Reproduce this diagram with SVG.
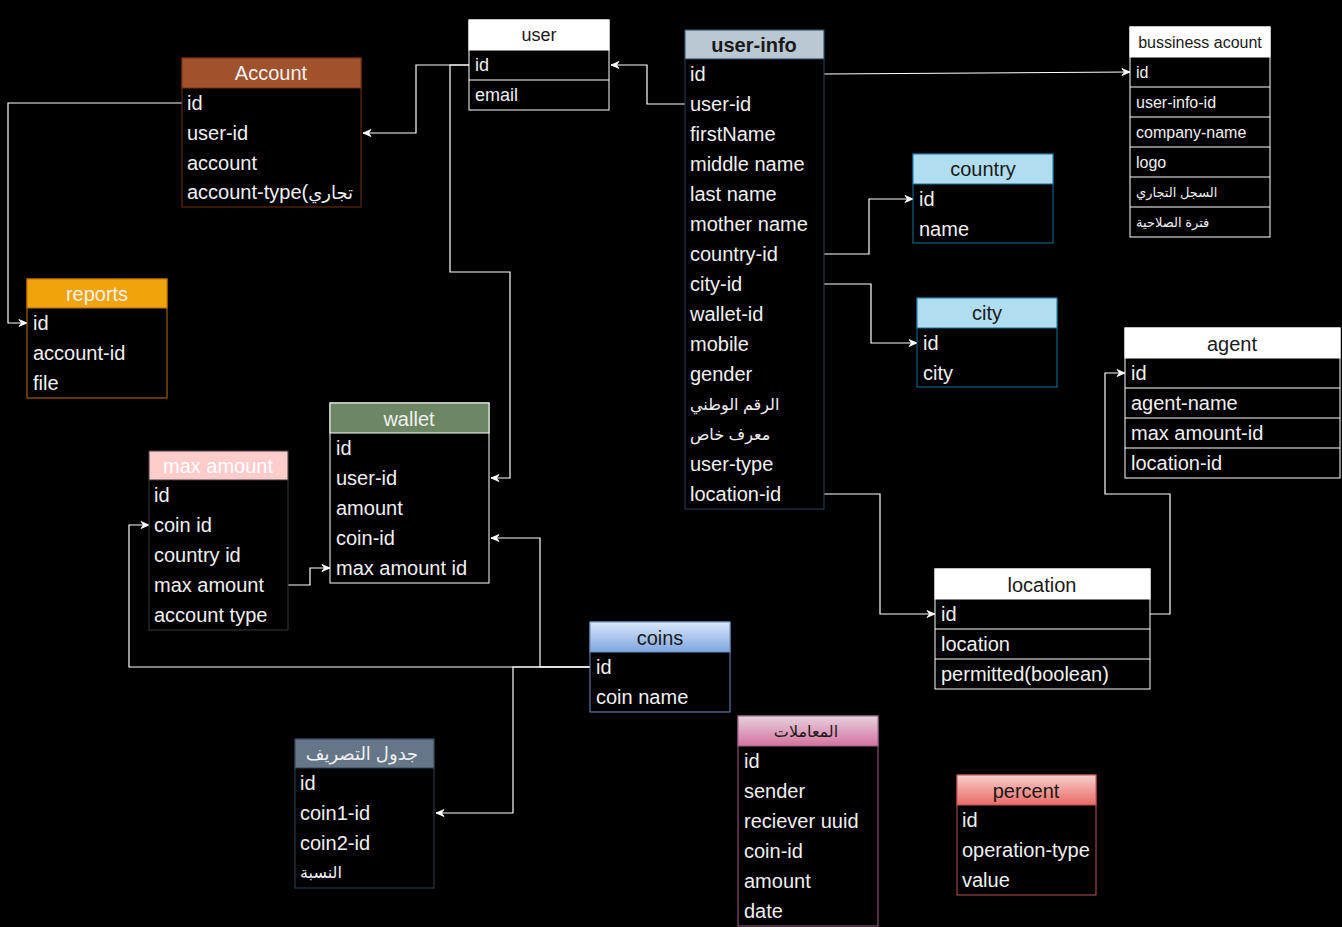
<svg xmlns="http://www.w3.org/2000/svg" width="1342" height="927" viewBox="0 0 1342 927">
<defs>
<style>
text{font-family:"Liberation Sans","DejaVu Sans",Arial,sans-serif;font-size:20px;fill:#f0f0f0}
.h{text-anchor:middle}
.dk{fill:#1a1a1a}
.s16{font-size:16px}
.s18{font-size:18px}
.ar{font-size:16px}
.arb{font-size:13px}
.b{font-weight:bold}
.body{fill:#000}
.conn{fill:none;stroke:#fff;stroke-width:1.2}
.sep{stroke:#fff;stroke-width:1}
</style>
<marker id="arr" markerUnits="userSpaceOnUse" markerWidth="10" markerHeight="10" viewBox="0 0 10 10" refX="9" refY="5" orient="auto">
<path d="M1,1.5 L9,5 L1,8.5 L3.5,5 Z" fill="#fff" stroke="#fff" stroke-width="0.8"/>
</marker>
<linearGradient id="gCoins" x1="0" y1="0" x2="0" y2="1"><stop offset="0" stop-color="#dae8fc"/><stop offset="1" stop-color="#7ea6e0"/></linearGradient>
<linearGradient id="gTrans" x1="0" y1="0" x2="0" y2="1"><stop offset="0" stop-color="#e6d0de"/><stop offset="1" stop-color="#d5739d"/></linearGradient>
<linearGradient id="gPct" x1="0" y1="0" x2="0" y2="1"><stop offset="0" stop-color="#f8cecc"/><stop offset="1" stop-color="#ea6b66"/></linearGradient>
</defs>
<rect x="0" y="0" width="1342" height="927" fill="#000"/>

<g id="connectors">
<path class="conn" d="M685,104 H647 V65 H611" marker-end="url(#arr)"/>
<path class="conn" d="M469,65 H416 V133 H363" marker-end="url(#arr)"/>
<path class="conn" d="M469,65 H450 V272 H510 V478 H491" marker-end="url(#arr)"/>
<path class="conn" d="M182,103 H8 V323 H27" marker-end="url(#arr)"/>
<path class="conn" d="M288,585 H310 V568 H330" marker-end="url(#arr)"/>
<path class="conn" d="M590,667 H129 V525 H149" marker-end="url(#arr)"/>
<path class="conn" d="M590,667 H540 V538 H491" marker-end="url(#arr)"/>
<path class="conn" d="M590,667 H513 V813 H436" marker-end="url(#arr)"/>
<path class="conn" d="M824,74 L1130,72" marker-end="url(#arr)"/>
<path class="conn" d="M824,254 H869 V199 H913" marker-end="url(#arr)"/>
<path class="conn" d="M824,284 H871 V343 H917" marker-end="url(#arr)"/>
<path class="conn" d="M824,494 H880 V614 H935" marker-end="url(#arr)"/>
<path class="conn" d="M1150,614 H1170 V494 H1105 V373 H1125" marker-end="url(#arr)"/>
</g>

<g id="user">
<rect class="body" x="469" y="20" width="140" height="90" stroke="#fff"/>
<rect x="469" y="20" width="140" height="30" fill="#fff" stroke="#fff"/>
<line class="sep" x1="469" y1="80" x2="609" y2="80"/>
<text class="h dk s18" x="539" y="41">user</text>
<text class="s18" x="475" y="71">id</text>
<text class="s18" x="475" y="101">email</text>
</g>

<g id="account">
<rect class="body" x="182" y="58" width="179" height="149" stroke="#7a2e0a"/>
<rect x="182" y="58" width="179" height="30" fill="#a0522d" stroke="#7a2e0a"/>
<text class="h" x="271" y="80">Account</text>
<text x="187" y="110">id</text>
<text x="187" y="140">user-id</text>
<text x="187" y="170">account</text>
<text x="187" y="199">account-type(<tspan style="font-size:18px">تجاري</tspan></text>
</g>

<g id="user-info">
<rect class="body" x="685" y="30" width="139" height="479" stroke="#23445d"/>
<rect x="685" y="30" width="139" height="29" fill="#bac8d3" stroke="#23445d"/>
<text class="h dk b" x="754" y="52">user-info</text>
<text x="690" y="81">id</text>
<text x="690" y="111">user-id</text>
<text x="690" y="141">firstName</text>
<text x="690" y="171">middle name</text>
<text x="690" y="201">last name</text>
<text x="690" y="231">mother name</text>
<text x="690" y="261">country-id</text>
<text x="690" y="291">city-id</text>
<text x="690" y="321">wallet-id</text>
<text x="690" y="351">mobile</text>
<text x="690" y="381">gender</text>
<text class="ar" x="690" y="410">الرقم الوطني</text>
<text class="ar" x="690" y="440">معرف خاص</text>
<text x="690" y="471">user-type</text>
<text x="690" y="501">location-id</text>
</g>

<g id="bussiness-acount">
<rect class="body" x="1130" y="27" width="140" height="210" stroke="#fff"/>
<rect x="1130" y="27" width="140" height="30" fill="#fff" stroke="#fff"/>
<line class="sep" x1="1130" y1="87" x2="1270" y2="87"/>
<line class="sep" x1="1130" y1="117" x2="1270" y2="117"/>
<line class="sep" x1="1130" y1="147" x2="1270" y2="147"/>
<line class="sep" x1="1130" y1="177" x2="1270" y2="177"/>
<line class="sep" x1="1130" y1="207" x2="1270" y2="207"/>
<text class="h dk s16" x="1200" y="48">bussiness acount</text>
<text class="s16" x="1136" y="78">id</text>
<text class="s16" x="1136" y="108">user-info-id</text>
<text class="s16" x="1136" y="138">company-name</text>
<text class="s16" x="1136" y="168">logo</text>
<text class="arb" x="1136" y="197">السجل التجاري</text>
<text class="arb" x="1136" y="227">فترة الصلاحية</text>
</g>

<g id="country">
<rect class="body" x="913" y="154" width="140" height="89" stroke="#10739e"/>
<rect x="913" y="154" width="140" height="30" fill="#b1ddf0" stroke="#10739e"/>
<text class="h dk" x="983" y="176">country</text>
<text x="919" y="206">id</text>
<text x="919" y="236">name</text>
</g>

<g id="city">
<rect class="body" x="917" y="298" width="140" height="89" stroke="#10739e"/>
<rect x="917" y="298" width="140" height="30" fill="#b1ddf0" stroke="#10739e"/>
<text class="h dk" x="987" y="320">city</text>
<text x="923" y="350">id</text>
<text x="923" y="380">city</text>
</g>

<g id="agent">
<rect class="body" x="1125" y="328" width="215" height="150" stroke="#fff"/>
<rect x="1125" y="328" width="215" height="30" fill="#fff" stroke="#fff"/>
<line class="sep" x1="1125" y1="388" x2="1340" y2="388"/>
<line class="sep" x1="1125" y1="418" x2="1340" y2="418"/>
<line class="sep" x1="1125" y1="448" x2="1340" y2="448"/>
<text class="h dk" x="1232" y="351">agent</text>
<text x="1131" y="380">id</text>
<text x="1131" y="410">agent-name</text>
<text x="1131" y="440">max amount-id</text>
<text x="1131" y="470">location-id</text>
</g>

<g id="location">
<rect class="body" x="935" y="569" width="215" height="120" stroke="#fff"/>
<rect x="935" y="569" width="215" height="30" fill="#fff" stroke="#fff"/>
<line class="sep" x1="935" y1="629" x2="1150" y2="629"/>
<line class="sep" x1="935" y1="659" x2="1150" y2="659"/>
<text class="h dk" x="1042" y="592">location</text>
<text x="941" y="621">id</text>
<text x="941" y="651">location</text>
<text x="941" y="681">permitted(boolean)</text>
</g>

<g id="reports">
<rect class="body" x="27" y="279" width="140" height="119" stroke="#bd7000"/>
<rect x="27" y="279" width="140" height="29" fill="#f0a30a" stroke="#bd7000"/>
<text class="h" x="97" y="301">reports</text>
<text x="33" y="330">id</text>
<text x="33" y="360">account-id</text>
<text x="33" y="390">file</text>
</g>

<g id="wallet">
<rect class="body" x="330" y="403" width="159" height="180" stroke="#fff"/>
<rect x="330" y="403" width="159" height="30" fill="#6d8764" stroke="#fff"/>
<text class="h" x="409" y="426">wallet</text>
<text x="336" y="455">id</text>
<text x="336" y="485">user-id</text>
<text x="336" y="515">amount</text>
<text x="336" y="545">coin-id</text>
<text x="336" y="575">max amount id</text>
</g>

<g id="max-amount">
<rect class="body" x="149" y="451" width="139" height="179" stroke="#36393d"/>
<rect x="149" y="451" width="139" height="29" fill="#ffcccc" stroke="#36393d"/>
<text class="h" x="218" y="473" style="fill:#fff">max amount</text>
<text x="154" y="502">id</text>
<text x="154" y="532">coin id</text>
<text x="154" y="562">country id</text>
<text x="154" y="592">max amount</text>
<text x="154" y="622">account type</text>
</g>

<g id="coins">
<rect class="body" x="590" y="622" width="140" height="90" stroke="#6c8ebf"/>
<rect x="590" y="622" width="140" height="30" fill="url(#gCoins)" stroke="#6c8ebf"/>
<text class="h dk" x="660" y="645">coins</text>
<text x="596" y="674">id</text>
<text x="596" y="704">coin name</text>
</g>

<g id="exchange-table">
<rect class="body" x="295" y="739" width="139" height="149" stroke="#314354"/>
<rect x="295" y="739" width="139" height="29" fill="#647687" stroke="#314354"/>
<text class="h s18" x="362" y="760">جدول التصريف</text>
<text x="300" y="790">id</text>
<text x="300" y="820">coin1-id</text>
<text x="300" y="850">coin2-id</text>
<text class="s16" x="300" y="878">النسبة</text>
</g>

<g id="transactions">
<rect class="body" x="738" y="716" width="140" height="210" stroke="#996185"/>
<rect x="738" y="716" width="140" height="30" fill="url(#gTrans)" stroke="#996185"/>
<text class="h dk s16" x="806" y="737">المعاملات</text>
<text x="744" y="768">id</text>
<text x="744" y="798">sender</text>
<text x="744" y="828">reciever uuid</text>
<text x="744" y="858">coin-id</text>
<text x="744" y="888">amount</text>
<text x="744" y="918">date</text>
</g>

<g id="percent">
<rect class="body" x="957" y="775" width="139" height="120" stroke="#b85450"/>
<rect x="957" y="775" width="139" height="30" fill="url(#gPct)" stroke="#b85450"/>
<text class="h dk" x="1026" y="798">percent</text>
<text x="962" y="827">id</text>
<text x="962" y="857">operation-type</text>
<text x="962" y="887">value</text>
</g>
</svg>
